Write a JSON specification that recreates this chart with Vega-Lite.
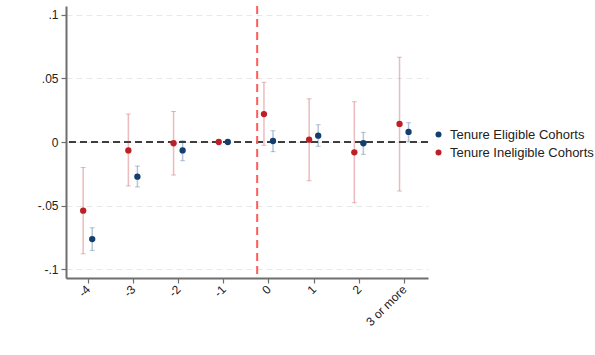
{
  "$schema": "https://vega.github.io/schema/vega-lite/v6.json",
  "width": 362,
  "height": 272,
  "autosize": {"type": "none"},
  "padding": {"left": 66, "top": 6, "right": 167, "bottom": 77},
  "background": "white",
  "config": {
    "font": "Liberation Sans",
    "view": {"stroke": null},
    "axis": {"labelFont": "Liberation Sans", "titleFont": "Liberation Sans", "labelFontSize": 12, "titleFontSize": 12, "labelColor": "#222", "titleColor": "#222", "titleFontWeight": "normal"}
  },
  "data": {
    "values": [
      {"group": "Tenure Eligible Cohorts", "year": -4, "est": -0.0764, "lo": -0.0853, "hi": -0.0675},
      {"group": "Tenure Eligible Cohorts", "year": -3, "est": -0.0273, "lo": -0.0354, "hi": -0.0189},
      {"group": "Tenure Eligible Cohorts", "year": -2, "est": -0.0066, "lo": -0.0147, "hi": 0.001},
      {"group": "Tenure Eligible Cohorts", "year": -1, "est": 0, "lo": null, "hi": null},
      {"group": "Tenure Eligible Cohorts", "year": 0, "est": 0.0008, "lo": -0.0076, "hi": 0.0089},
      {"group": "Tenure Eligible Cohorts", "year": 1, "est": 0.005, "lo": -0.0034, "hi": 0.0136},
      {"group": "Tenure Eligible Cohorts", "year": 2, "est": -0.001, "lo": -0.0097, "hi": 0.0076},
      {"group": "Tenure Eligible Cohorts", "year": 3, "est": 0.0079, "lo": 0.0005, "hi": 0.0152},
      {"group": "Tenure Ineligible Cohorts", "year": -4, "est": -0.054, "lo": -0.088, "hi": -0.020},
      {"group": "Tenure Ineligible Cohorts", "year": -3, "est": -0.0066, "lo": -0.0346, "hi": 0.022},
      {"group": "Tenure Ineligible Cohorts", "year": -2, "est": -0.001, "lo": -0.026, "hi": 0.024},
      {"group": "Tenure Ineligible Cohorts", "year": -1, "est": 0, "lo": null, "hi": null},
      {"group": "Tenure Ineligible Cohorts", "year": 0, "est": 0.022, "lo": -0.0026, "hi": 0.047},
      {"group": "Tenure Ineligible Cohorts", "year": 1, "est": 0.0018, "lo": -0.0305, "hi": 0.034},
      {"group": "Tenure Ineligible Cohorts", "year": 2, "est": -0.0081, "lo": -0.0478, "hi": 0.0317},
      {"group": "Tenure Ineligible Cohorts", "year": 3, "est": 0.0142, "lo": -0.0386, "hi": 0.0667}
    ]
  },
  "transform": [
    {"calculate": "datum.year + (datum.group == 'Tenure Eligible Cohorts' ? 0.1 : -0.1)", "as": "xpos"}
  ],
  "layer": [
    {
      "data": {"values": [{"zero": 0}]},
      "transform": [],
      "mark": {"type": "rule", "color": "#000000", "strokeWidth": 1.4, "strokeDash": [7, 4]},
      "encoding": {"y": {"field": "zero", "type": "quantitative", "title": null}}
    },
    {
      "data": {"values": [{"cut": -0.25}]},
      "transform": [],
      "mark": {"type": "rule", "color": "#ff5c5c", "strokeWidth": 2, "strokeDash": [8, 5]},
      "encoding": {"x": {"field": "cut", "type": "quantitative", "title": null}}
    },
    {
      "transform": [
        {"calculate": "datum.year + (datum.group == 'Tenure Eligible Cohorts' ? 0.1 : -0.1)", "as": "xpos"},
        {"filter": "datum.lo != null"}
      ],
      "mark": {"type": "errorbar", "ticks": {"size": 5, "opacity": 0.3}, "rule": {"strokeWidth": 1.5, "opacity": 0.3}},
      "encoding": {
        "x": {"field": "xpos", "type": "quantitative", "title": null},
        "y": {"field": "lo", "type": "quantitative", "title": null},
        "y2": {"field": "hi"},
        "color": {
          "field": "group", "type": "nominal",
          "legend": {
            "title": null, "orient": "none", "legendX": 366, "legendY": 122,
            "symbolType": "circle", "symbolSize": 36, "symbolStrokeWidth": 0, "symbolOpacity": 1,
            "labelFontSize": 13, "labelFont": "Liberation Sans", "labelColor": "#222", "rowPadding": 4, "labelOffset": 5
          }
        }
      }
    },
    {
      "mark": {"type": "point", "filled": true, "shape": "circle", "size": 40, "opacity": 1},
      "encoding": {
        "x": {
          "field": "xpos", "type": "quantitative",
          "scale": {"domain": [-4.48, 3.53], "nice": false, "zero": false},
          "axis": {
            "title": "Year Around Tenure Receipt",
            "values": [-4, -3, -2, -1, 0, 1, 2, 3],
            "labelExpr": "datum.value == 3 ? '3 or more' : (datum.value < 0 ? '-' + abs(datum.value) : '' + datum.value)",
            "labelAngle": -45, "labelAlign": "right", "labelBaseline": "middle", "labelPadding": 4,
            "grid": false, "domainColor": "#6e6e6e", "domainWidth": 2, "tickColor": "#6e6e6e", "tickSize": 5, "tickWidth": 1.2,
            "titlePadding": 14
          }
        },
        "y": {
          "field": "est", "type": "quantitative",
          "scale": {"domain": [-0.107, 0.107], "nice": false},
          "axis": {
            "title": "TVA Math",
            "values": [-0.1, -0.05, 0, 0.05, 0.1],
            "labelExpr": "datum.value == 0 ? '0' : (datum.value < 0 ? '-' : '') + replace(format(abs(datum.value), '.2~f'), '0.', '.')",
            "grid": true, "gridColor": "#e8e8e8", "gridDash": [6, 4], "gridWidth": 1,
            "domainColor": "#6e6e6e", "domainWidth": 2, "tickColor": "#6e6e6e", "tickSize": 5, "tickWidth": 1.2,
            "labelPadding": 3, "titlePadding": 10
          }
        },
        "color": {
          "field": "group", "type": "nominal",
          "scale": {"domain": ["Tenure Eligible Cohorts", "Tenure Ineligible Cohorts"], "range": ["#123f70", "#bc2026"]},
          "legend": {
            "title": null, "orient": "none", "legendX": 366, "legendY": 122,
            "symbolType": "circle", "symbolSize": 36, "symbolStrokeWidth": 0, "symbolOpacity": 1,
            "labelFontSize": 13, "labelFont": "Liberation Sans", "labelColor": "#222", "rowPadding": 4, "labelOffset": 5
          }
        }
      }
    }
  ]
}
